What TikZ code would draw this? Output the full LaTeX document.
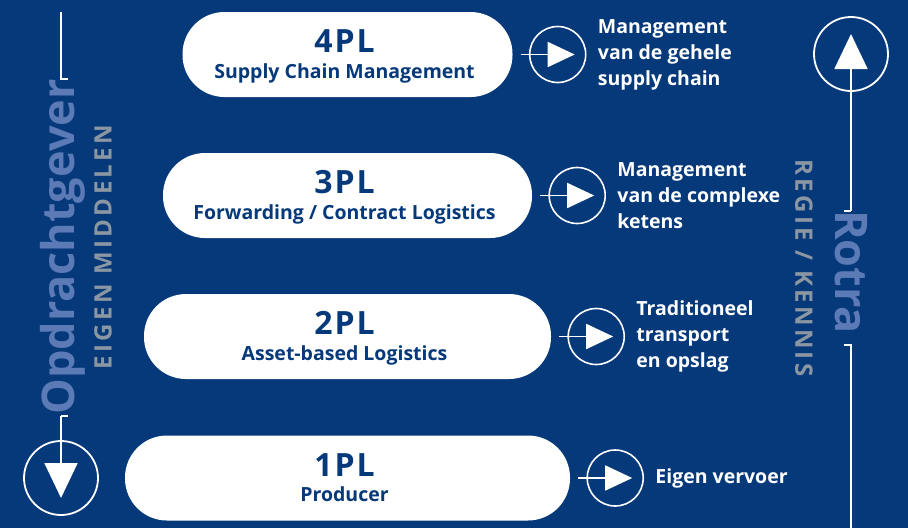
\documentclass[tikz,border=0pt]{standalone}
\usepackage{fontspec}
\setmainfont{Open Sans}
\newfontfamily\capsfont[LetterSpace=14]{Open Sans}
\newfontfamily\titlefont[LetterSpace=6]{Open Sans}
\usetikzlibrary{arrows.meta,calc}
\definecolor{bg}{HTML}{05397A}
\definecolor{mutedblue}{HTML}{5B7AB6}
\definecolor{graytxt}{HTML}{8B96A3}
\begin{document}
\begin{tikzpicture}[x=1pt,y=-1pt,
  pill/.style={fill=white, rounded corners=42pt, minimum height=85pt, inner sep=0pt},
  ptitle/.style={anchor=base, text=bg, inner sep=0pt, font=\titlefont\fontsize{32}{36}\selectfont\bfseries},
  psub/.style={anchor=base, text=bg, inner sep=0pt, font=\fontsize{19.5}{24}\selectfont\bfseries},
  ring/.style={circle, draw=white, line width=1.6pt, minimum size=56pt, inner sep=0pt},
  bigring/.style={circle, draw=white, line width=1.8pt, minimum size=74pt, inner sep=0pt},
  wline/.style={draw=white, line width=1.8pt},
  smalltip/.style={-{Triangle[width=25pt,length=27pt]}},
  bigtip/.style={-{Triangle[width=33pt,length=35pt]}},
  desc/.style={anchor=west, text=white, align=left, inner sep=0pt, font=\fontsize{19.5}{26}\selectfont\bfseries},
  bigword/.style={text=mutedblue, inner sep=0pt, font=\fontsize{45}{50}\selectfont\bfseries},
  capword/.style={text=graytxt, inner sep=0pt, font=\capsfont\fontsize{24}{28}\selectfont\bfseries}
]
\fill[bg] (0,0) rectangle (908,528);
\useasboundingbox (0,0) rectangle (908,528);

% pills
\node[pill, minimum width=330pt] (p4) at (347.5,54.5) {};
\node[pill, minimum width=369pt] (p3) at (347.5,195.5) {};
\node[pill, minimum width=407pt] (p2) at (347.5,336.5) {};
\node[pill, minimum width=445pt] (p1) at (347.5,478) {};

\node[ptitle] (t4) at ($(p4.center)+(-3,-2)$) {4PL};
\node[psub] (s4) at ($(p4.center)+(-3,23.5)$) {Supply Chain Management};
\node[ptitle] (t3) at ($(p3.center)+(-3,-2)$) {3PL};
\node[psub] (s3) at ($(p3.center)+(-3,23.5)$) {Forwarding / Contract Logistics};
\node[ptitle] (t2) at ($(p2.center)+(-3,-2)$) {2PL};
\node[psub] (s2) at ($(p2.center)+(-3,23.5)$) {Asset-based Logistics};
\node[ptitle] (t1) at ($(p1.center)+(-3,-2)$) {1PL};
\node[psub] (s1) at ($(p1.center)+(-3,23.5)$) {Producer};

% small circles with arrows and descriptions
\foreach \i in {4,3,2,1}{
  \node[ring] (c\i) at ($(p\i.east)+(45,0)$) {};
  \coordinate (a\i) at ($(p\i.east)+(8,0)$);
  \coordinate (e\i) at ($(c\i.center)+(17,0)$);
  \draw[wline, smalltip] (a\i) -- (e\i);
}
\node[desc] (d4) at ($(c4.center)+(40,0)$) {Management\\van de gehele\\supply chain};
\node[desc] (d3) at ($(c3.center)+(40,0)$) {Management\\van de complexe\\ketens};
\node[desc] (d2) at ($(c2.center)+(40,0)$) {Traditioneel\\transport\\en opslag};
\node[desc] (d1) at ($(c1.center)+(40,0)$) {Eigen vervoer};

% left axis
\node[bigword, rotate=90] (op) at (63,247) {Opdrachtgever};
\node[capword, rotate=90] (em) at (103,247) {EIGEN MIDDELEN};
\coordinate (lt) at (61,12);
\coordinate (lb) at (61,79);
\coordinate (ltk) at (68,79);
\draw[wline] (lt) -- (lb) -- (ltk);
\node[bigring] (lc) at (61,478) {};
\coordinate (ls) at (61,416);
\coordinate (lsk) at (68,416);
\coordinate (le) at ($(lc.center)+(0,20)$);
\draw[wline] (lsk) -- (ls);
\draw[wline, bigtip] (ls) -- (le);

% right axis
\node[bigword, rotate=-90] (ro) at (851,272) {Rotra};
\node[capword, rotate=-90] (rk) at (804,268) {REGIE / KENNIS};
\node[bigring] (rc) at (851,54) {};
\coordinate (rs) at (851,211);
\coordinate (rsk) at (844,211);
\coordinate (re) at ($(rc.center)+(0,-20)$);
\draw[wline] (rsk) -- (rs);
\draw[wline, bigtip] (rs) -- (re);
\coordinate (rb) at (851,345);
\coordinate (rbk) at (844,345);
\coordinate (rz) at (851,528);
\draw[wline] (rbk) -- (rb) -- (rz);
\end{tikzpicture}
\end{document}
